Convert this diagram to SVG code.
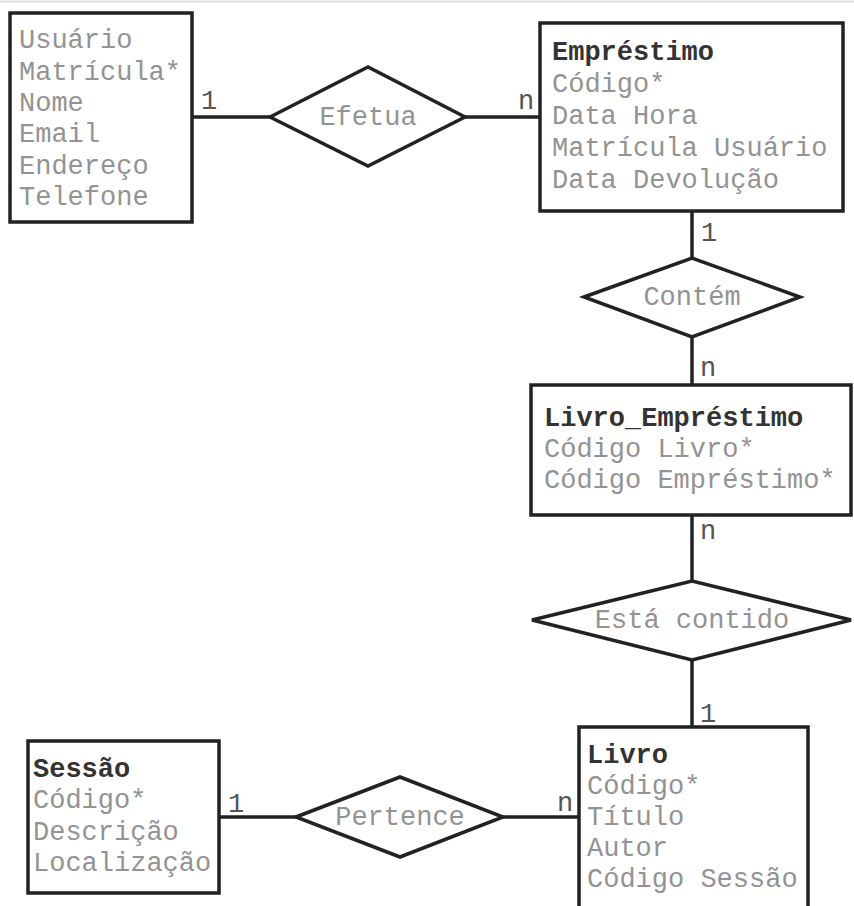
<svg xmlns="http://www.w3.org/2000/svg" width="854" height="906" viewBox="0 0 854 906">
<style>
.box{fill:#fff;stroke:#222;stroke-width:3.5}
.dia{fill:#fff;stroke:#222;stroke-width:3.5;stroke-linejoin:miter}
.con{stroke:#222;stroke-width:3.5;fill:none}
text{font-family:"Liberation Mono","Courier New",monospace;font-size:27px}
.t{font-weight:bold;fill:#333}
.a{fill:#939393}
.r{fill:#939393;text-anchor:middle}
.c{fill:#555;text-anchor:middle}
</style>
<rect x="0" y="0" width="854" height="906" fill="#fff"/>
<line x1="0" y1="1.5" x2="854" y2="1.5" stroke="#ddd" stroke-width="2"/>
<g id="connectors">
<line class="con" x1="192" y1="117" x2="270" y2="117"/>
<line class="con" x1="465" y1="117" x2="540" y2="117"/>
<line class="con" x1="692" y1="211" x2="692" y2="258"/>
<line class="con" x1="692" y1="337" x2="692" y2="385"/>
<line class="con" x1="692" y1="515" x2="692" y2="581"/>
<line class="con" x1="692" y1="660" x2="692" y2="727"/>
<line class="con" x1="219" y1="817" x2="296" y2="817"/>
<line class="con" x1="503" y1="817" x2="579" y2="817"/>
<text class="c" x="209" y="109">1</text>
<text class="c" x="526" y="109">n</text>
<text class="c" x="709" y="241">1</text>
<text class="c" x="708" y="376">n</text>
<text class="c" x="708" y="539">n</text>
<text class="c" x="708" y="722">1</text>
<text class="c" x="236" y="812">1</text>
<text class="c" x="565" y="811">n</text>
</g>
<g id="usuario">
<rect class="box" x="10" y="13" width="182" height="209"/>
<text class="a" x="19" y="48">Usuário</text>
<text class="a" x="19" y="79.5">Matrícula*</text>
<text class="a" x="19" y="111">Nome</text>
<text class="a" x="19" y="142">Email</text>
<text class="a" x="19" y="173.5">Endereço</text>
<text class="a" x="19" y="205">Telefone</text>
</g>
<g id="efetua">
<polygon class="dia" points="270,117 368,67 465,117 368,166"/>
<text class="r" x="368" y="125">Efetua</text>
</g>
<g id="emprestimo">
<rect class="box" x="540" y="23" width="303" height="188"/>
<text class="t" x="552" y="60">Empréstimo</text>
<text class="a" x="552" y="92">Código*</text>
<text class="a" x="552" y="124">Data Hora</text>
<text class="a" x="552" y="156">Matrícula Usuário</text>
<text class="a" x="552" y="188">Data Devolução</text>
</g>
<g id="contem">
<polygon class="dia" points="584,297 692,258 800,297 692,337"/>
<text class="r" x="692" y="305">Contém</text>
</g>
<g id="livro_emprestimo">
<rect class="box" x="531" y="385" width="320" height="130"/>
<text class="t" x="544" y="426">Livro_Empréstimo</text>
<text class="a" x="544" y="457">Código Livro*</text>
<text class="a" x="544" y="488">Código Empréstimo*</text>
</g>
<g id="esta_contido">
<polygon class="dia" points="532,620 692,581 851,620 692,660"/>
<text class="r" x="692" y="628">Está contido</text>
</g>
<g id="sessao">
<rect class="box" x="28" y="741" width="191" height="152"/>
<text class="t" x="33" y="777">Sessão</text>
<text class="a" x="33" y="808">Código*</text>
<text class="a" x="33" y="840">Descrição</text>
<text class="a" x="33" y="871">Localização</text>
</g>
<g id="pertence">
<polygon class="dia" points="296,817 400,777 503,817 400,857"/>
<text class="r" x="400" y="825">Pertence</text>
</g>
<g id="livro">
<rect class="box" x="579" y="727" width="229" height="185"/>
<text class="t" x="587" y="763">Livro</text>
<text class="a" x="587" y="794">Código*</text>
<text class="a" x="587" y="825">Título</text>
<text class="a" x="587" y="856">Autor</text>
<text class="a" x="587" y="887">Código Sessão</text>
</g>
</svg>
